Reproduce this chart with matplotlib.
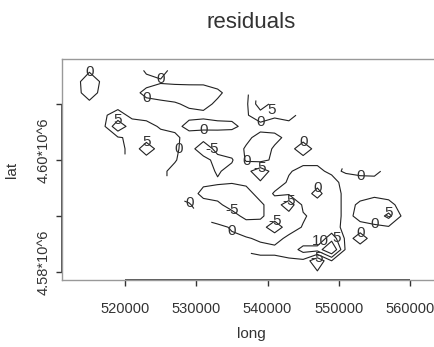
import numpy as np
import matplotlib
matplotlib.use("Agg")
import matplotlib.pyplot as plt
from matplotlib.transforms import ScaledTranslation

plt.rcParams["font.family"] = ["Liberation Sans", "DejaVu Sans"]
plt.rcParams["axes.unicode_minus"] = False

# Interpolated residual surface on a regular long/lat grid (NaN = outside data hull)
N = np.nan
long_grid = [513000, 515000, 517000, 519000, 521000, 523000, 525000, 527000, 529000,
             531000, 533000, 535000, 537000, 539000, 541000, 543000, 545000, 547000,
             549000, 551000, 553000, 555000, 557000, 559000, 561000]
lat_grid_top_down = [4616000, 4614000, 4612000, 4610000, 4608000, 4606000, 4604000,
                     4602000, 4600000, 4598000, 4596000, 4594000, 4592000, 4590000,
                     4588000, 4586000, 4584000, 4582000, 4580000]
resid_rows = [
    [-2, -0.5, -2, -2, -2, 0.5, 1, -1] + [N] * 17,
    [-1.5, 2.5, -1, -2, -2, -1, -0.3, -0.5, -0.6, -0.5, -1] + [N] * 14,
    [-1.5, 2, -1.5, -2, -1, 0.8, 1.5, 1.5, 1.5, 1.2, 0.5, -1, -1.5] + [N] * 12,
    [-1.5, -1, -2, -1.5, -1.5, -1, -0.8, -0.3, 0.5, 0.8, -0.5, -1.5, -1, 8, 3] + [N] * 10,
    [N, -1, -0.5, 1.5, -1, -1.5, -1.2, -1, -0.8, -0.6, -1, -1, -0.5, 2.5, 0.5, 1, -1] + [N] * 8,
    [N, -1.5, -1, 9, 2, 1.5, -0.5, -1, 1, 1.2, 1, 0.8, -1, -1.5, -1.5, -1, -1.5] + [N] * 8,
    [N, N, -1, -0.5, 1, 2, 1.5, 0.8, -1.5, -2.5, -2, -2, -1, 1.5, 1, -1, -1, -1.5] + [N] * 7,
    [N, N, N, -1, 1, 9, 2, 0.8, -2, -9.5, -2.5, -2.5, 0.5, 2, -0.5, -1, 1.5, -1] + [N] * 7,
    [N, N, N, N, 1, 2, 1.5, 0.3, -2, -2.5, -7.5, -5.5, 0.5, 1.5, -1, -1.5, -1, -1, -1.5] + [N] * 6,
    [N] * 6 + [0.8, -1, -2, -3, -5.5, -3.5, -3.5, -8, -3, -0.3, 1, 1, -1, 0.5, 1, 0.8, -1] + [N] * 2,
    [N] * 7 + [-1, -2, -4, -4.5, -4.8, -4, -4.5, -2, 0.5, 1.5, 1, 2, -2, -1.5, -1, -1] + [N] * 2,
    [N] * 7 + [-1, -2.5, -6.5, -7, -7, -7, -3, 0.5, 0.8, 1.5, -1, 2, -1, -1, -0.5, -1, -1] + [N],
    [N] * 8 + [0.5, -3, -4, -7, -7, -6, -2, -8.5, 1, 1.5, 2, -1, 0.5, 1, 0.8, -1] + [N],
    [N] * 9 + [-1, -2, -3, -6.5, -6, -2, -2.5, -0.5, 1.5, 2, -1, 1, 1.5, 6.5, -1] + [N],
    [N] * 10 + [0.8, -0.3, -2, -2.5, -8.5, -2, 0.3, 1, 1.5, -1, -1, -0.5, -0.5, -1] + [N],
    [N] * 11 + [0.5, 0.3, -0.5, -1.5, 1, 1, 1, 8, -1, 1, -1, -1] + [N] * 2,
    [N] * 12 + [0.5, 1, 1, 1.5, 7, 7, 16, -1, -1] + [N] * 4,
    [N] * 13 + [-1, -1, -0.5, -1, -9.5, 0, -1] + [N] * 5,
    [N] * 14 + [-1, -1, -1.5, -4.5, -1] + [N] * 6,
]
contour_levels = [-10, -5, 0, 5, 10]
x_ticks = [520000, 530000, 540000, 550000, 560000]
y_ticks = [4580000, 4590000, 4600000, 4610000]
y_tick_labels = ["4.58*10^6", "", "4.60*10^6", ""]

lat_grid = lat_grid_top_down[::-1]
Z = np.ma.masked_invalid(np.array(resid_rows[::-1], dtype=float))

fig = plt.figure(figsize=(4.34, 3.47), dpi=100)
ax = fig.add_axes([62 / 434, 67 / 347, 378 / 434, 221 / 347])

ink = "#333333"
cs = ax.contour(long_grid, lat_grid, Z, levels=contour_levels,
                colors="#222222", linewidths=0.8, linestyles="solid")
# label every contour piece, however small
cs.print_label = lambda linecontour, labelwidth: len(linecontour) >= 4
labels = ax.clabel(cs, fmt="%d", fontsize=11, colors=ink, inline=False)
for t in labels:
    t.set_rotation(0)

ax.set_xlim(511158, 564210)
ax.set_ylim(4578571, 4618036)

# nudge contour labels sideways so that none of them collide
fig.canvas.draw()
renderer = fig.canvas.get_renderer()
placed = []
for t in labels:
    for _ in range(8):
        bb = t.get_window_extent(renderer).padded(1)
        hit = next((p for p in placed if bb.overlaps(p)), None)
        if hit is None:
            break
        if bb.x0 + bb.x1 < hit.x0 + hit.x1:
            dx = hit.x0 - bb.x1 - 1.0
        else:
            dx = hit.x1 - bb.x0 + 1.0
        disp = ax.transData.transform(t.get_position()) + np.array([dx, 0.0])
        t.set_position(ax.transData.inverted().transform(disp))
    placed.append(t.get_window_extent(renderer).padded(1))

for side in ["left", "right", "top", "bottom"]:
    ax.spines[side].set_color("#999999")
    ax.spines[side].set_linewidth(1.0)

# axis lines spanning the tick range
ax.plot([x_ticks[0], x_ticks[-1]], [4578571, 4578571], color=ink, lw=1.2,
        clip_on=False, solid_capstyle="butt")
ax.plot([511158, 511158], [y_ticks[0], y_ticks[-1]], color=ink, lw=1.2,
        clip_on=False, solid_capstyle="butt")

ax.set_xticks(x_ticks)
ax.set_xticklabels([str(v) for v in x_ticks])
ax.set_yticks(y_ticks)
ax.set_yticklabels(y_tick_labels, rotation=90, va="center")
ax.tick_params(axis="both", direction="out", length=4.5, width=1.0, color=ink,
               labelcolor=ink, labelsize=10.5)
ax.tick_params(axis="x", pad=11)
ax.tick_params(axis="y", pad=4)
for lab in ax.get_yticklabels():
    lab.set_transform(lab.get_transform() + ScaledTranslation(0, 0.10, fig.dpi_scale_trans))

fig.text(251 / 434, 1 - 23 / 347, "residuals", ha="center", va="center",
         fontsize=16, color=ink)
fig.text(251 / 434, 1 - 334 / 347, "long", ha="center", va="center",
         fontsize=11, color=ink)
fig.text(12 / 434, 1 - 170 / 347, "lat", ha="center", va="center",
         rotation=90, fontsize=11, color=ink)

fig.savefig("out.png", dpi=100)
